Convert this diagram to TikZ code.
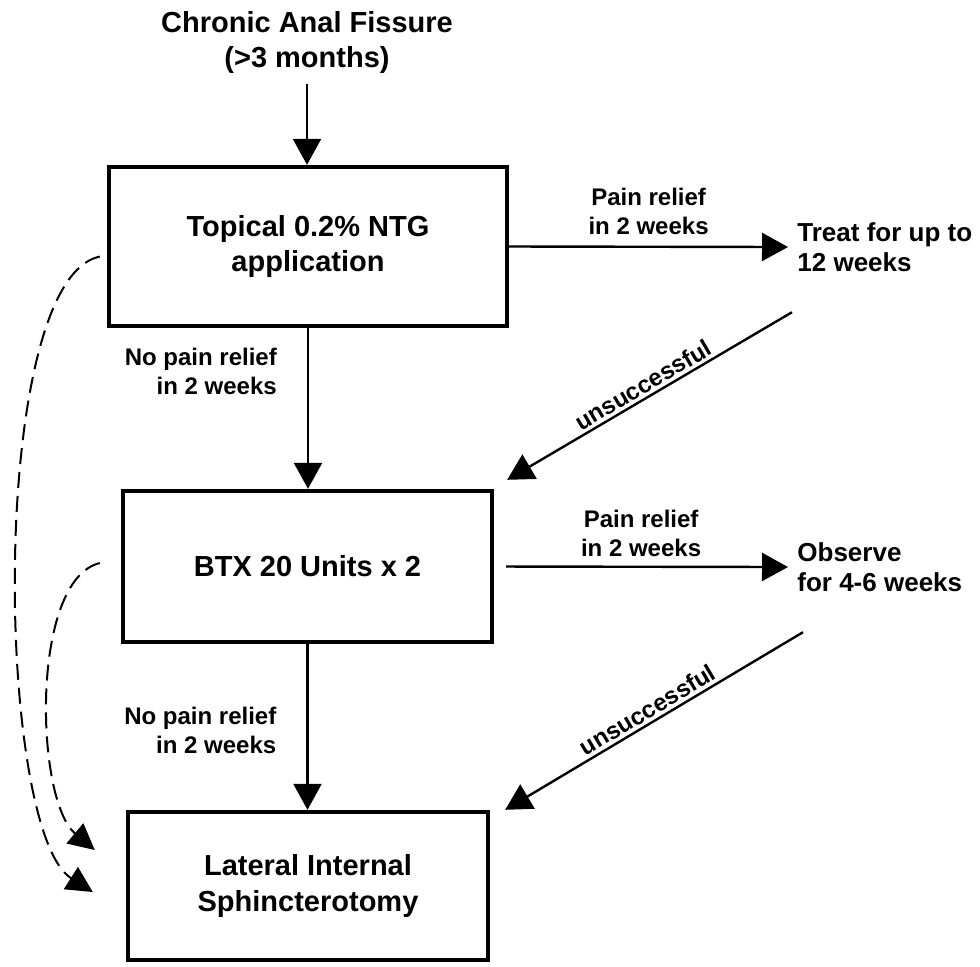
\documentclass[tikz,border=0pt]{standalone}
\usepackage{fontspec}
\setmainfont{Liberation Sans}
\usetikzlibrary{arrows.meta}

\begin{document}
\begin{tikzpicture}[x=0.5pt, y=-0.5pt,
    stepbox/.style={draw, line width=2.2pt, inner sep=0pt},
    bigtext/.style={font=\fontsize{14.5}{17.75}\selectfont\bfseries, align=center},
    sidetext/.style={font=\fontsize{13}{15.25}\selectfont\bfseries, align=left, inner sep=4.5pt, anchor=west},
    lbl/.style={font=\fontsize{12}{14.25}\selectfont\bfseries, inner sep=0pt},
    arr/.style={line width=1.2pt, -{Triangle[length=13pt,width=14pt]}},
    dasharr/.style={line width=1pt, dash pattern=on 8pt off 4pt, -{Triangle[length=13pt,width=13pt]}}]

    \useasboundingbox (0,0) rectangle (980,966);

    % draw nodes
    \node[bigtext, inner sep=5pt] (fissure) at (307,42.5) {Chronic Anal Fissure\\(>3 months)};
    \node[stepbox, bigtext, minimum width=199pt, minimum height=79.5pt] (ntg) at (308,246.5) {Topical 0.2\% NTG\\application};
    \node[stepbox, bigtext, minimum width=184.5pt, minimum height=75.5pt] (btx) at (307.5,566.5) {BTX 20 Units x 2};
    \node[stepbox, bigtext, minimum width=180pt, minimum height=74pt] (lis) at (308,886) {Lateral Internal\\Sphincterotomy};
    \node[sidetext] (treat) at (788,247) {Treat for up to\\12 weeks};
    \node[sidetext] (observe) at (788,567) {Observe\\for 4-6 weeks};

    % draw vertical arrows
    \draw[arr] (fissure.south) -- (fissure.south |- ntg.north);
    \draw[arr] (ntg.south) -- (ntg.south |- btx.north)
      node[lbl, pos=0.27, left=15pt, align=right] {No pain relief\\in 2 weeks};
    \draw[arr] (btx.south) -- (btx.south |- lis.north)
      node[lbl, pos=0.52, left=15pt, align=right] {No pain relief\\in 2 weeks};

    % draw horizontal arrows
    \draw[arr] (ntg.east) -- (treat.west)
      node[lbl, midway, above=5.5pt, align=center] {Pain relief\\in 2 weeks};
    \draw[arr, shorten <=6pt] (btx.east) -- (observe.west)
      node[lbl, midway, above=4.5pt, align=center] {Pain relief\\in 2 weeks};

    % draw diagonal arrows
    \draw[arr] ([shift={(2pt,-15.5pt)}]treat.south west) -- ([shift={(6.5pt,4.5pt)}]btx.north east)
      node[lbl, midway, sloped, above=1.5pt] {unsuccessful};
    \draw[arr] ([shift={(7.5pt,-15.5pt)}]observe.south west) -- ([xshift=7.5pt]lis.north east)
      node[lbl, midway, sloped, above=1.5pt] {unsuccessful};

    % draw dashed curves
    \draw[dasharr] ([shift={(-3.5pt,-5pt)}]ntg.west) .. controls (-12,280) and (-5,830) .. ([shift={(-16.5pt,-3pt)}]lis.west);
    \draw[dasharr] ([shift={(-10.5pt,1.75pt)}]btx.west) .. controls (30,580) and (35,800) .. ([shift={(-15.5pt,18pt)}]lis.west);

\end{tikzpicture}
\end{document}
